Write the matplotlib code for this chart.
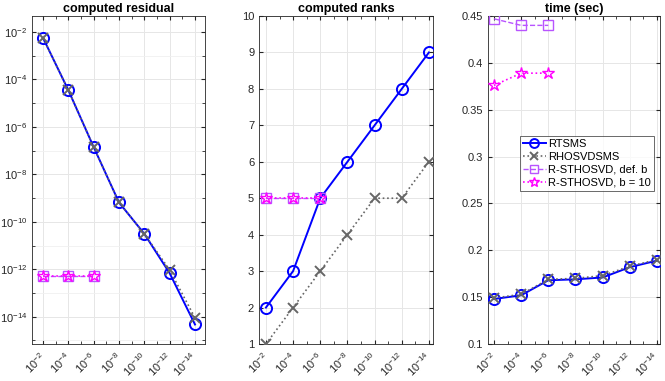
import numpy as np
import matplotlib
matplotlib.use("Agg")
import matplotlib.pyplot as plt
import matplotlib.ticker as mticker

plt.rcParams["font.family"] = ["Liberation Sans", "DejaVu Sans"]
plt.rcParams["mathtext.fontset"] = "custom"
plt.rcParams["mathtext.rm"] = "Liberation Sans"
plt.rcParams["mathtext.it"] = "Liberation Sans"

tol = [1e-2, 1e-4, 1e-6, 1e-8, 1e-10, 1e-12, 1e-14]
tol_labels = [r"$10^{-%d}$" % k for k in (2, 4, 6, 8, 10, 12, 14)]

# residuals
res_rtsms = [5.6e-3, 3.5e-5, 1.4e-7, 6.5e-10, 3.1e-11, 6.8e-13, 4.7e-15]
res_rhosvd = [5.6e-3, 3.5e-5, 1.4e-7, 6.5e-10, 3.1e-11, 9.3e-13, 8.9e-15]
res_sthosvd = [5.4e-13, 5.4e-13, 5.4e-13]
res_sthosvd10 = [5.4e-13, 5.4e-13, 5.4e-13]

# ranks
rank_rtsms = [2, 3, 5, 6, 7, 8, 9]
rank_rhosvd = [1, 2, 3, 4, 5, 5, 6]
rank_sthosvd = [5, 5, 5]
rank_sthosvd10 = [5, 5, 5]

# time (sec)
time_rtsms = [0.148, 0.152, 0.168, 0.169, 0.171, 0.182, 0.189]
time_rhosvd = [0.149, 0.153, 0.169, 0.170, 0.173, 0.183, 0.190]
time_sthosvd = [0.447, 0.440, 0.440]
time_sthosvd10 = [0.376, 0.389, 0.389]

names = ["RTSMS", "RHOSVDSMS", "R-STHOSVD, def. b", "R-STHOSVD, b = 10"]

BLUE = (0, 0, 1)
GRAY = (0.4, 0.4, 0.4)
PURPLE = (0.72, 0.33, 1.0)
MAGENTA = (1, 0, 1)

fig = plt.figure(figsize=(6.65, 3.81), dpi=100)
W, H = 665.0, 381.0
boxes = [(32, 205), (259, 433), (488, 660)]
top, bot = 16, 344
axes = [fig.add_axes([l / W, 1 - bot / H, (r - l) / W, (bot - top) / H]) for l, r in boxes]


def draw(ax, a, b, c, d):
    ax.plot(tol, a, "-", color=BLUE, lw=1.4, marker="o", ms=8, mfc="none", mew=1.4, label=names[0], zorder=4)
    ax.plot(tol, b, ":", color=GRAY, lw=1.2, marker="x", ms=7, mew=1.4, label=names[1], zorder=5)
    ax.plot(tol[:3], c, "--", color=PURPLE, lw=1.0, marker="s", ms=7, mfc="none", mew=1.0, label=names[2], zorder=4)
    ax.plot(tol[:3], d, ":", color=MAGENTA, lw=1.2, marker="*", ms=9, mfc="none", mew=1.0, label=names[3], zorder=4)


draw(axes[0], res_rtsms, res_rhosvd, res_sthosvd, res_sthosvd10)
draw(axes[1], rank_rtsms, rank_rhosvd, rank_sthosvd, rank_sthosvd10)
draw(axes[2], time_rtsms, time_rhosvd, time_sthosvd, time_sthosvd10)

titles = ["computed residual", "computed ranks", "time (sec)"]
xl = [(10 ** -1.13, 10 ** -14.79), (10 ** -1.49, 10 ** -14.3), (10 ** -1.56, 10 ** -14.22)]
for ax, t, lim in zip(axes, titles, xl):
    ax.set_xscale("log")
    ax.set_xlim(*lim)
    ax.set_xticks(tol)
    ax.set_xticklabels(tol_labels, rotation=45, ha="right", va="center", rotation_mode="anchor")
    ax.xaxis.set_minor_locator(mticker.FixedLocator([10.0 ** -k for k in range(1, 16, 2)]))
    ax.xaxis.set_minor_formatter(mticker.NullFormatter())
    ax.set_title(t, fontsize=9, fontweight="bold", pad=3)
    ax.tick_params(direction="in", top=True, right=True, labelsize=8, colors="#262626", length=3)
    ax.tick_params(which="minor", direction="in", top=True, right=True, length=2, colors="#262626")
    ax.tick_params(axis="x", pad=8)
    ax.grid(True, which="major", color="#e6e6e6", lw=0.7)
    ax.set_axisbelow(True)
    for s in ax.spines.values():
        s.set_color("#262626")
        s.set_linewidth(0.6)

ax = axes[0]
ax.set_yscale("log")
ax.set_ylim(10 ** -15.15, 10 ** -1.33)
ax.set_yticks([10.0 ** -k for k in (2, 4, 6, 8, 10, 12, 14)])
ax.set_yticklabels([r"$10^{-%d}$" % k for k in (2, 4, 6, 8, 10, 12, 14)])
ax.yaxis.set_minor_locator(mticker.FixedLocator([10.0 ** -k for k in range(1, 16, 2)]))
ax.yaxis.set_minor_formatter(mticker.NullFormatter())
ax.grid(True, which="minor", axis="y", color="#f0f0f0", lw=0.6)

axes[1].set_ylim(1, 10)
axes[1].set_yticks(range(1, 11))

axes[2].set_ylim(0.1, 0.45)
axes[2].set_yticks([0.1, 0.15, 0.2, 0.25, 0.3, 0.35, 0.4, 0.45])
axes[2].set_yticklabels(["0.1", "0.15", "0.2", "0.25", "0.3", "0.35", "0.4", "0.45"])

leg = axes[2].legend(loc="upper left", bbox_to_anchor=((520 - 488) / 172.0, 1 - (136 - 16) / 328.0),
                     fontsize=8, frameon=True, fancybox=False, borderpad=0.3, labelspacing=0.25,
                     handlelength=2.0, handletextpad=0.2, borderaxespad=0, markerscale=0.8)
leg.get_frame().set_edgecolor("#262626")
leg.get_frame().set_linewidth(0.6)

fig.savefig("out.png", dpi=100)
